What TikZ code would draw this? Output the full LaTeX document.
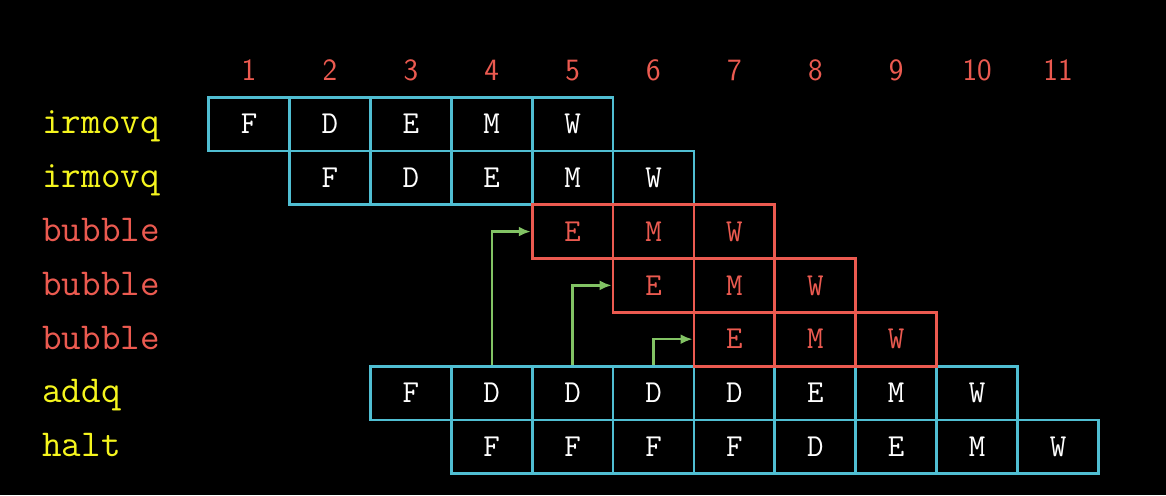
\documentclass[tikz,border=0pt]{standalone}
\usetikzlibrary{arrows.meta,positioning}
\definecolor{pipeblue}{RGB}{80,190,210}
\definecolor{bubblered}{RGB}{235,90,80}
\definecolor{instyellow}{RGB}{245,245,30}
\definecolor{fwdgreen}{RGB}{130,195,100}
\tikzset{
    stage/.style = {draw=pipeblue, line width=1.4pt, minimum width=40.45pt,
        minimum height=26.9pt, inner sep=0pt, text=white,
        font=\ttfamily\fontsize{16}{16}\selectfont},
    bubblestage/.style = {stage, draw=bubblered, text=bubblered},
    instr/.style = {anchor=west, inner sep=0pt, text height=0.7em, text depth=0.25em,
        font=\ttfamily\fontsize{19}{19}\selectfont},
    clocknum/.style = {text=bubblered, font=\sffamily\fontsize{15.5}{15.5}\selectfont},
    fwdarrow/.style = {draw=fwdgreen, line width=1.2pt, -{Latex[length=6pt,width=5pt]}}
}

\begin{document}
\begin{tikzpicture}[x=40.45pt, y=-26.9pt]
    \fill[black] (-2.078,-1.305) rectangle (12.335,7.896);
    \useasboundingbox (-2.078,-1.305) rectangle (12.335,7.896);

    % clock cycles
    \foreach \c in {1,...,11}
        \node[clocknum] (t-\c) at (\c,0) {\c};

    % instructions
    \foreach \r/\name/\col in {1/irmovq/instyellow, 2/irmovq/instyellow,
            3/bubble/bubblered, 4/bubble/bubblered, 5/bubble/bubblered,
            6/addq/instyellow, 7/halt/instyellow}
        \node[instr, text=\col] (i-\r) at (-1.559,\r+0.1) {\name};

    % pipeline stages
    \foreach \r/\first/\stages in {1/1/{F,D,E,M,W}, 2/2/{F,D,E,M,W},
            6/3/{F,D,D,D,D,E,M,W}, 7/4/{F,F,F,F,D,E,M,W}}
        \foreach \s [count=\k from 0] in \stages {
            \pgfmathtruncatemacro\c{\first+\k}
            \node[stage] (c-\r-\c) at (\c,\r) {\s};
        }
    \foreach \r/\first in {3/5, 4/6, 5/7}
        \foreach \s [count=\k from 0] in {E,M,W} {
            \pgfmathtruncatemacro\c{\first+\k}
            \node[bubblestage] (c-\r-\c) at (\c,\r) {\s};
        }

    % stalled decode
    \draw[fwdarrow] (c-6-4.north) |- (c-3-5.west);
    \draw[fwdarrow] (c-6-5.north) |- (c-4-6.west);
    \draw[fwdarrow] (c-6-6.north) |- (c-5-7.west);
\end{tikzpicture}
\end{document}
